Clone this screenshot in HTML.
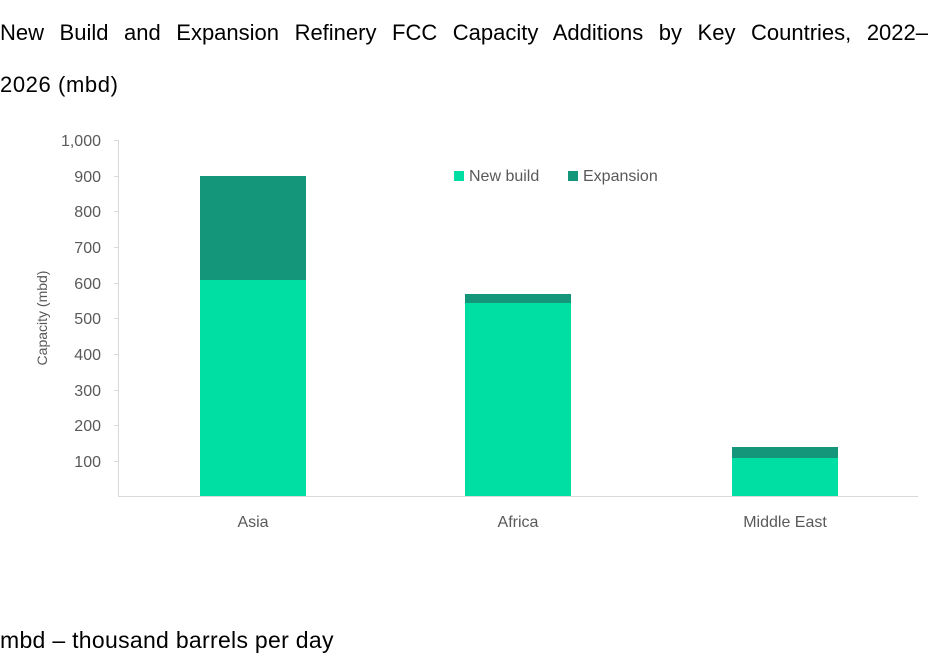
<!DOCTYPE html>
<html><head><style>
html,body{margin:0;padding:0;background:#fff;width:937px;height:664px;overflow:hidden;font-family:"Liberation Sans",sans-serif;}
.t{position:absolute;left:0;font-size:22px;color:#000;}
</style></head><body>
<div class="t" style="top:20px;width:928px;text-align:justify;text-align-last:justify;">New Build and Expansion Refinery FCC Capacity Additions by Key Countries, 2022–</div>
<div class="t" style="top:72px;letter-spacing:0.6px;">2026 (mbd)</div>
<svg width="937" height="664" style="position:absolute;left:0;top:0" font-family="Liberation Sans, sans-serif">
<g stroke="#d9d9d9" stroke-width="1">
<line x1="118.5" y1="140" x2="118.5" y2="496"/>
<line x1="118" y1="496.5" x2="918" y2="496.5"/>
<line x1="114" y1="140.5" x2="119" y2="140.5"/>
<line x1="114" y1="176.5" x2="119" y2="176.5"/>
<line x1="114" y1="211.5" x2="119" y2="211.5"/>
<line x1="114" y1="247.5" x2="119" y2="247.5"/>
<line x1="114" y1="283.5" x2="119" y2="283.5"/>
<line x1="114" y1="318.5" x2="119" y2="318.5"/>
<line x1="114" y1="354.5" x2="119" y2="354.5"/>
<line x1="114" y1="390.5" x2="119" y2="390.5"/>
<line x1="114" y1="425.5" x2="119" y2="425.5"/>
<line x1="114" y1="461.5" x2="119" y2="461.5"/>
</g>
<g fill="#595959" font-size="16" text-anchor="end">
<text x="101" y="146">1,000</text>
<text x="101" y="182">900</text>
<text x="101" y="217">800</text>
<text x="101" y="253">700</text>
<text x="101" y="289">600</text>
<text x="101" y="324">500</text>
<text x="101" y="360">400</text>
<text x="101" y="396">300</text>
<text x="101" y="431">200</text>
<text x="101" y="467">100</text>
</g>
<text transform="translate(47,318) rotate(-90)" fill="#595959" font-size="14" text-anchor="middle">Capacity (mbd)</text>
<rect x="200" y="176" width="106" height="104" fill="#139679"/>
<rect x="200" y="280" width="106" height="216" fill="#00DFA3"/>
<rect x="465" y="294" width="106" height="9" fill="#139679"/>
<rect x="465" y="303" width="106" height="193" fill="#00DFA3"/>
<rect x="732" y="447" width="106" height="11" fill="#139679"/>
<rect x="732" y="458" width="106" height="38" fill="#00DFA3"/>
<g fill="#595959" font-size="16" text-anchor="middle">
<text x="253" y="527">Asia</text>
<text x="518" y="527">Africa</text>
<text x="785" y="527">Middle East</text>
</g>
<rect x="454" y="171" width="10" height="10" fill="#00DFA3"/>
<text x="469" y="181" fill="#595959" font-size="16">New build</text>
<rect x="568" y="171" width="10" height="10" fill="#139679"/>
<text x="583" y="181" fill="#595959" font-size="16">Expansion</text>
</svg>
<div class="t" style="top:627px;font-size:23px;letter-spacing:0.3px;">mbd – thousand barrels per day</div>
</body></html>
